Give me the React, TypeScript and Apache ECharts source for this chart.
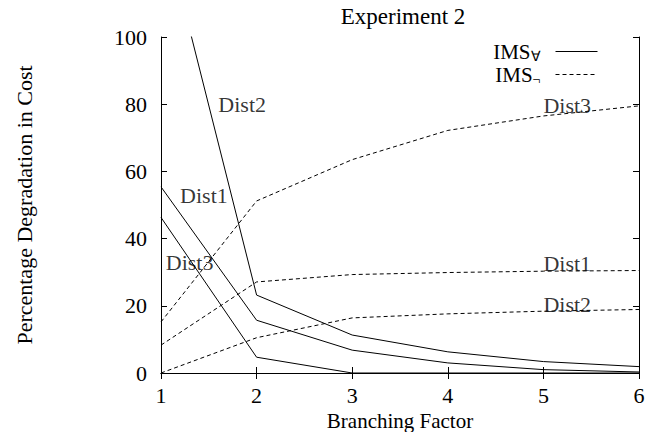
import React, { useEffect, useRef } from "react";
import * as echarts from "echarts";

const branching = [1, 2, 3, 4, 5, 6];
const forallDist1 = [55.4, 15.7, 6.8, 3.0, 1.0, 0.3];
const forallDist2 = [136, 23.2, 11.3, 6.3, 3.4, 1.9];
const forallDist3 = [46.3, 4.7, 0, 0, 0, 0];
const negDist1 = [8.3, 27.1, 29.3, 29.9, 30.3, 30.5];
const negDist2 = [0, 10.5, 16.4, 17.6, 18.4, 18.9];
const negDist3 = [15.2, 51.2, 63.5, 72.2, 76.5, 79.5];
const yTicks = [0, 20, 40, 60, 80, 100];
const annotations: [number, number, string][] = [
  [1.6, 80, "Dist2"],
  [1.2, 52.7, "Dist1"],
  [1.05, 32.8, "Dist3"],
  [5.0, 79.5, "Dist3"],
  [5.0, 32.6, "Dist1"],
  [5.0, 20.4, "Dist2"],
];

const FONT = "Liberation Serif";

export default function App() {
  const ref = useRef<HTMLDivElement>(null);
  useEffect(() => {
    if (!ref.current) return;
    const chart = echarts.init(ref.current, undefined, { renderer: "svg" });
    const pair = (ys: number[]) => branching.map((x, i) => [x, ys[i]]);
    const solid = (ys: number[]) => ({
      type: "line",
      name: "IMS∀",
      data: pair(ys),
      symbol: "none",
      silent: true,
      clip: true,
      lineStyle: { color: "#000", width: 1, type: "solid" },
      itemStyle: { color: "#000" },
    });
    const dashed = (ys: number[]) => ({
      type: "line",
      name: "IMS¬",
      data: pair(ys),
      symbol: "none",
      silent: true,
      clip: true,
      lineStyle: { color: "#000", width: 1, type: [4, 3] },
      itemStyle: { color: "#000" },
    });
    const axisCommon = {
      type: "value",
      axisLine: { show: true, lineStyle: { color: "#000", width: 1 } },
      axisTick: { show: true, inside: true, length: 6, lineStyle: { color: "#000" } },
      splitLine: { show: false },
    };
    chart.setOption({
      animation: false,
      backgroundColor: "#fff",
      title: {
        text: "Experiment 2",
        left: 398,
        textAlign: "center",
        top: 0,
        textStyle: { fontFamily: FONT, fontSize: 23, fontWeight: "normal", color: "#000" },
      },
      legend: {
        data: ["IMS∀", "IMS¬"],
        orient: "vertical",
        right: 63,
        top: 40,
        padding: 0,
        align: "right",
        itemWidth: 42,
        itemHeight: 10,
        itemGap: 0,
        itemStyle: { opacity: 0 },
        lineStyle: { width: 1 },
        textStyle: {
          fontFamily: FONT,
          color: "#000",
          rich: {
            a: { fontFamily: FONT, fontSize: 21, lineHeight: 18, color: "#000" },
            b: {
              fontFamily: FONT,
              fontSize: 14,
              lineHeight: 4,
              color: "#000",
              padding: [9, 10, 0, 0],
            },
          },
        },
        formatter: (name: string) => `{a|IMS}{b|${name.slice(3)}}`,
      },
      grid: {
        left: 161,
        right: 22,
        top: 37,
        bottom: 59,
        containLabel: false,
        outerBoundsMode: "none",
      },
      xAxis: [
        {
          ...axisCommon,
          position: "bottom",
          min: 1,
          max: 6,
          interval: 1,
          axisLabel: { fontFamily: FONT, fontSize: 22, color: "#000", margin: 11 },
          name: "Branching Factor",
          nameLocation: "middle",
          nameGap: 27,
          nameTextStyle: { fontFamily: FONT, fontSize: 21, color: "#000" },
        },
        {
          ...axisCommon,
          position: "top",
          min: 1,
          max: 6,
          interval: 1,
          axisLabel: { show: false },
        },
      ],
      yAxis: [
        {
          ...axisCommon,
          position: "left",
          min: 0,
          max: 100,
          interval: 20,
          axisLabel: {
            fontFamily: FONT,
            fontSize: 22,
            color: "#000",
            margin: 14,
            formatter: (v: number) => (yTicks.includes(v) ? String(v) : ""),
          },
          name: "Percentage Degradation in Cost",
          nameLocation: "middle",
          nameGap: 126,
          nameRotate: 90,
          nameTextStyle: { fontFamily: FONT, fontSize: 22, color: "#000" },
        },
        {
          ...axisCommon,
          position: "right",
          min: 0,
          max: 100,
          interval: 20,
          axisLabel: { show: false },
        },
      ],
      series: [
        solid(forallDist1),
        solid(forallDist2),
        solid(forallDist3),
        dashed(negDist1),
        dashed(negDist2),
        dashed(negDist3),
        {
          type: "scatter",
          name: "labels",
          data: annotations.map(([x, y, t]) => [x, y, t]),
          symbolSize: 0,
          silent: true,
          z: 5,
          label: {
            show: true,
            position: "right",
            distance: 0,
            formatter: (p: any) => p.data[2],
            fontFamily: FONT,
            fontSize: 22,
            color: "#000",
          },
        },
      ],
    });
    return () => chart.dispose();
  }, []);
  return (
    <div
      ref={ref}
      style={{ position: "fixed", left: 0, top: 0, width: 661, height: 432 }}
    />
  );
}
